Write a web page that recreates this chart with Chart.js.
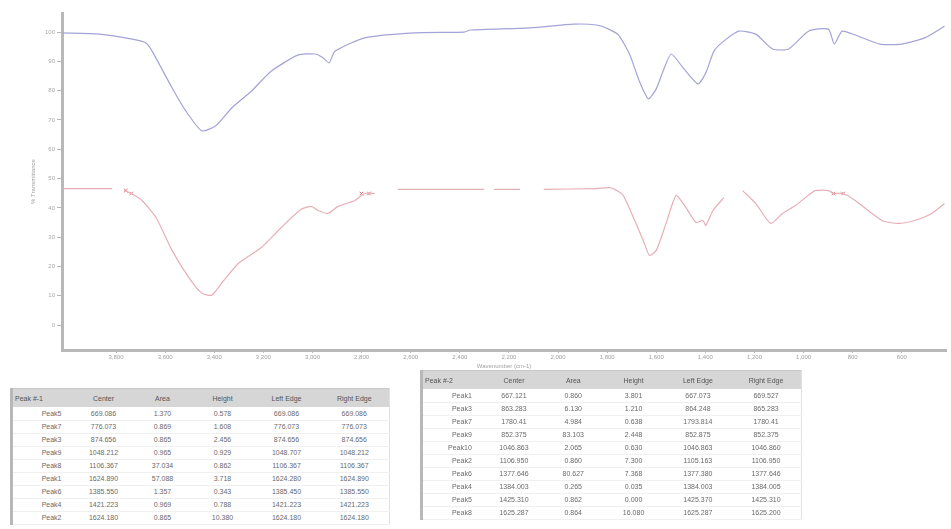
<!DOCTYPE html>
<html lang="en">

<head>
  <meta charset="UTF-8" />
  <title>FTIR Spectrum</title>
  <script src="https://cdn.jsdelivr.net/npm/chart.js"></script>
  <style>
    body {
      margin: 0;
      background: #ffffff;
      font-family: Arial, "Liberation Sans", sans-serif;
      width: 951px;
      height: 529px;
      overflow: hidden;
      position: relative;
    }

    #spectrum {
      position: absolute;
      left: 0;
      top: 0;
    }

    table.peaks {
      position: absolute;
      border-collapse: collapse;
      font-size: 7px;
      color: #6a6a6a;
      table-layout: fixed;
      border-left: 3px solid #b8b8b8;
      border-top: 1px solid #c8c8c8;
      border-right: 1px solid #e0e0e0;
    }

    table.peaks th {
      background: #d6d6d6;
      font-weight: normal;
      height: 18px;
      padding: 0;
      text-align: center;
      color: #555;
    }

    table.peaks th:first-child {
      text-align: left;
      padding-left: 2px;
    }

    table.peaks td {
      padding: 0;
      text-align: center;
      border-bottom: 1px solid #f0f0f0;
      white-space: nowrap;
    }

    table.peaks td:first-child {
      text-align: right;
      padding-right: 12px;
    }
  </style>
</head>

<body>
  <canvas id="spectrum" width="951" height="372"></canvas>
  <table class="peaks" id="tableA" style="left:10px; top:388px; width:378px;"></table>
  <table class="peaks" id="tableB" style="left:420px; top:370px; width:382px;"></table>

  <script>
    // top trace (blue)
    const blueWn = [4018, 3868, 3734, 3678, 3653, 3572, 3516, 3451, 3394, 3329, 3248, 3167, 3058, 2989, 2957,
      2932, 2908, 2787, 2584, 2382, 2358, 2114, 1936, 1843, 1794, 1754, 1709, 1669, 1632, 1600, 1572, 1539,
      1487, 1430, 1398, 1365, 1325, 1264, 1195, 1126, 1061, 980, 899, 875, 843, 790, 689, 600, 507, 426];
    const blueT = [99.7, 99.3, 97.6, 96.3, 93.5, 81.0, 73.1, 66.3, 68.0, 74.1, 79.9, 86.7, 92.2, 92.5, 91.2,
      89.5, 93.5, 98.0, 99.7, 100.0, 100.7, 101.4, 102.7, 102.4, 101.0, 99.0, 92.5, 83.3, 77.2, 80.6, 86.7, 92.5,
      87.4, 82.3, 86.1, 93.5, 96.9, 100.3, 99.3, 94.2, 94.2, 100.3, 101.0, 95.9, 100.3, 99.0, 95.9, 95.9, 98.0, 102.0];

    // bottom trace (red), null = break in the line
    const redWn = [4018, 3815, 3790, 3767, 3738, 3694, 3637, 3572, 3504, 3451, 3410, 3370, 3301, 3208, 3127,
      3046, 3005, 2977, 2937, 2896, 2827, 2787, 2746, 2700, 2653, 2301, 2280, 2260, 2155, 2100, 2058, 1843,
      1790, 1754, 1734, 1693, 1653, 1628, 1600, 1560, 1519, 1479, 1438, 1410, 1398, 1369, 1325, 1290, 1248,
      1195, 1134, 1086, 1033, 993, 952, 899, 879, 839, 790, 681, 616, 547, 478, 426];
    const redT = [46.6, 46.6, null, 45.9, 44.9, 42.5, 36.7, 25.5, 16.3, 10.9, 10.2, 14.3, 21.1, 26.5, 33.3,
      39.5, 40.5, 39.1, 38.1, 40.5, 42.5, 44.9, 44.9, null, 46.3, 46.3, null, 46.3, 46.3, null, 46.3, 46.6,
      46.9, 45.6, 44.2, 36.7, 28.9, 23.8, 25.5, 34.7, 44.2, 40.1, 35.0, 35.7, 34.0, 39.1, 43.5, null, 45.9,
      41.5, 34.7, 38.1, 40.8, 43.5, 45.9, 45.9, 44.9, 44.9, 42.5, 35.7, 34.7, 35.7, 38.1, 41.5];

    // red peak marks on the lower trace
    const markWn = [3760, 3738, 2800, 2770, 879, 839];
    const markT = [45.9, 44.9, 44.9, 44.9, 44.9, 44.9];

    const xTicks = [3800, 3600, 3400, 3200, 3000, 2800, 2600, 2400, 2200, 2000, 1800, 1600, 1400, 1200, 1000, 800, 600];
    const yTicks = [0, 10, 20, 30, 40, 50, 60, 70, 80, 90, 100];

    const tableHead = ["Center", "Area", "Height", "Left Edge", "Right Edge"];

    const tableATitle = "Peak #-1";
    const tableARows = ["Peak5", "Peak7", "Peak3", "Peak9", "Peak8", "Peak1", "Peak6", "Peak4", "Peak2"];
    const tableACenter = ["669.086", "776.073", "874.656", "1048.212", "1106.367", "1624.890", "1385.550", "1421.223", "1624.180"];
    const tableAArea = ["1.370", "0.869", "0.865", "0.965", "37.034", "57.088", "1.357", "0.969", "0.865"];
    const tableAHeight = ["0.578", "1.608", "2.456", "0.929", "0.862", "3.718", "0.343", "0.788", "10.380"];
    const tableALeft = ["669.086", "776.073", "874.656", "1048.707", "1106.367", "1624.280", "1385.450", "1421.223", "1624.180"];
    const tableARight = ["669.086", "776.073", "874.656", "1048.212", "1106.367", "1624.890", "1385.550", "1421.223", "1624.180"];

    const tableBTitle = "Peak #-2";
    const tableBRows = ["Peak1", "Peak3", "Peak7", "Peak9", "Peak10", "Peak2", "Peak6", "Peak4", "Peak5", "Peak8"];
    const tableBCenter = ["667.121", "863.283", "1780.41", "852.375", "1046.863", "1106.950", "1377.646", "1384.003", "1425.310", "1625.287"];
    const tableBArea = ["0.860", "6.130", "4.984", "83.103", "2.065", "0.860", "80.627", "0.265", "0.862", "0.864"];
    const tableBHeight = ["3.801", "1.210", "0.638", "2.448", "0.630", "7.300", "7.368", "0.035", "0.000", "16.080"];
    const tableBLeft = ["667.073", "864.248", "1793.814", "852.875", "1046.863", "1105.163", "1377.380", "1384.003", "1425.370", "1625.287"];
    const tableBRight = ["669.527", "865.283", "1780.41", "852.375", "1046.860", "1106.950", "1377.646", "1384.005", "1425.310", "1625.200"];

    function pts(xs, ys) {
      return xs.map((x, i) => ({ x: x, y: ys[i] }));
    }

    const axisGrey = "#b8b8b8";
    const tickFont = { family: "Arial", size: 6 };

    new Chart(document.getElementById("spectrum"), {
      type: "line",
      data: {
        datasets: [{
          label: "sample 1",
          data: pts(blueWn, blueT),
          borderColor: "#a3a3d8",
          borderWidth: 1.2,
          pointRadius: 0,
          tension: 0.2
        }, {
          label: "sample 2",
          data: pts(redWn, redT),
          borderColor: "#e6afb6",
          borderWidth: 1.2,
          pointRadius: 0,
          tension: 0.2,
          spanGaps: false
        }, {
          label: "peaks",
          data: pts(markWn, markT),
          showLine: false,
          pointStyle: "crossRot",
          pointRadius: 2.5,
          borderColor: "#e4707e",
          borderWidth: 1
        }]
      },
      options: {
        responsive: false,
        animation: false,
        devicePixelRatio: 1,
        layout: { padding: { left: 30, top: 13, right: 0, bottom: 0 } },
        plugins: {
          legend: { display: false },
          tooltip: { enabled: false }
        },
        scales: {
          x: {
            type: "linear",
            reverse: true,
            min: 420,
            max: 4020,
            afterBuildTicks: s => { s.ticks = xTicks.map(v => ({ value: v })); },
            afterFit: s => { s.height = 22; },
            border: { display: true, color: axisGrey, width: 3 },
            grid: { drawOnChartArea: false, drawTicks: true, tickLength: 3, color: axisGrey },
            ticks: { font: tickFont, color: "#a0a0a0", padding: 1, maxRotation: 0, autoSkip: false },
            title: {
              display: true,
              text: "Wavenumber (cm-1)",
              font: { family: "Arial", size: 6 },
              color: "#a0a0a0",
              padding: { top: 0, bottom: 2 }
            }
          },
          y: {
            min: -8.5,
            max: 106.5,
            afterBuildTicks: s => { s.ticks = yTicks.map(v => ({ value: v })); },
            afterFit: s => { s.width = 32; },
            border: { display: true, color: axisGrey, width: 3 },
            grid: { drawOnChartArea: false, drawTicks: true, tickLength: 5, color: axisGrey },
            ticks: { font: tickFont, color: "#a8a8a8", padding: 2 },
            title: {
              display: true,
              text: "% Transmittance",
              font: { family: "Arial", size: 6 },
              color: "#a0a0a0",
              padding: 0
            }
          }
        }
      }
    });

    // peak tables under the plot
    function fillTable(id, title, rows, cols) {
      const t = document.getElementById(id);
      const widths = [62, 60, 58, 62, 66, 70];
      const cg = document.createElement("colgroup");
      widths.forEach(w => {
        const c = document.createElement("col");
        c.style.width = w + "px";
        cg.appendChild(c);
      });
      t.appendChild(cg);
      const hr = document.createElement("tr");
      [title].concat(tableHead).forEach(h => {
        const th = document.createElement("th");
        th.textContent = h;
        hr.appendChild(th);
      });
      t.appendChild(hr);
      rows.forEach((r, i) => {
        const tr = document.createElement("tr");
        tr.style.height = "13px";
        [r].concat(cols.map(c => c[i])).forEach(v => {
          const td = document.createElement("td");
          td.textContent = v;
          tr.appendChild(td);
        });
        t.appendChild(tr);
      });
    }

    fillTable("tableA", tableATitle, tableARows, [tableACenter, tableAArea, tableAHeight, tableALeft, tableARight]);
    fillTable("tableB", tableBTitle, tableBRows, [tableBCenter, tableBArea, tableBHeight, tableBLeft, tableBRight]);
  </script>
</body>

</html>
